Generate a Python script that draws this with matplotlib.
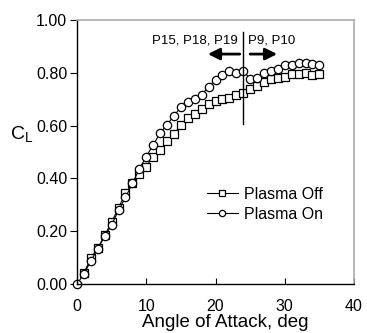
import matplotlib
matplotlib.use("Agg")
import matplotlib.pyplot as plt

plt.rcParams["font.family"] = ["Liberation Sans", "DejaVu Sans"]
plt.rcParams["mathtext.fontset"] = "custom"
plt.rcParams["mathtext.rm"] = "Liberation Sans"
plt.rcParams["mathtext.it"] = "Liberation Sans"

# ---------------------------------------------------------------------------
# Data
# ---------------------------------------------------------------------------
alpha_off = list(range(1, 36))
cl_off = [0.042, 0.098, 0.136, 0.184, 0.235, 0.288, 0.344, 0.382, 0.416, 0.445,
          0.483, 0.506, 0.540, 0.567, 0.603, 0.627, 0.644, 0.662, 0.682, 0.695,
          0.700, 0.706, 0.716, 0.725, 0.740, 0.750, 0.767, 0.777, 0.782, 0.786,
          0.796, 0.796, 0.800, 0.792, 0.796]

alpha_on = list(range(0, 36))
cl_on = [0.000, 0.038, 0.088, 0.134, 0.180, 0.224, 0.279, 0.328, 0.381, 0.435,
         0.483, 0.527, 0.571, 0.604, 0.637, 0.670, 0.691, 0.700, 0.716, 0.748,
         0.773, 0.792, 0.805, 0.801, 0.808, 0.776, 0.779, 0.798, 0.807, 0.815,
         0.830, 0.830, 0.836, 0.836, 0.832, 0.830]

split_alpha = 24
split_range = (0.607, 0.956)
left_label = "P15, P18, P19"
right_label = "P9, P10"

x_ticks = [0, 10, 20, 30, 40]
y_ticks = [0.0, 0.2, 0.4, 0.6, 0.8, 1.0]

# ---------------------------------------------------------------------------
# Plot
# ---------------------------------------------------------------------------
fig = plt.figure(figsize=(3.67, 3.33), dpi=100)
ax = fig.add_axes([0.2098, 0.1471, 0.7548, 0.7928])

ax.plot(alpha_off, cl_off, color="black", linewidth=0.8, marker="s",
        markersize=6, markerfacecolor="white", markeredgecolor="black",
        markeredgewidth=0.9, label="Plasma Off")
ax.plot(alpha_on, cl_on, color="black", linewidth=0.8, marker="o",
        markersize=6, markerfacecolor="white", markeredgecolor="black",
        markeredgewidth=0.9, label="Plasma On", clip_on=False)

ax.plot([split_alpha, split_alpha], split_range, color="black", linewidth=1.0)
ax.text(23.2, 0.924, left_label, ha="right", va="center", fontsize=9.5)
ax.text(24.7, 0.924, right_label, ha="left", va="center", fontsize=9.5)
arrow = dict(arrowstyle="-|>,head_length=0.7,head_width=0.35", color="black",
             linewidth=2, shrinkA=0, shrinkB=0)
ax.annotate("", xy=(18.9, 0.871), xytext=(23.5, 0.871), arrowprops=arrow)
ax.annotate("", xy=(28.9, 0.871), xytext=(25.0, 0.871), arrowprops=arrow)

ax.set_xlim(0, 40)
ax.set_ylim(0, 1.0)
ax.set_xticks(x_ticks)
ax.set_yticks(y_ticks)
ax.set_yticklabels([f"{v:.2f}" for v in y_ticks])
ax.tick_params(axis="x", direction="in", length=4, pad=11, labelsize=11.5)
ax.tick_params(axis="y", direction="out", length=5, pad=2, labelsize=11.5)

for side in ("top", "right"):
    ax.spines[side].set_color("#aaaaaa")
    ax.spines[side].set_linewidth(1.2)
for side in ("left", "bottom"):
    ax.spines[side].set_linewidth(1.0)

ax.set_xlabel("Angle of Attack, deg", fontsize=13.5)
ax.xaxis.set_label_coords(0.534, -0.115)
ax.set_ylabel(r"C$_{\rm L}$", fontsize=14, rotation=0)
ax.yaxis.set_label_coords(-0.2, 0.53)

ax.legend(loc="upper left", bbox_to_anchor=(0.47, 0.368), frameon=False,
          fontsize=11.5, handlelength=1.9, handletextpad=0.4, labelspacing=0.3,
          borderpad=0, borderaxespad=0, markerscale=0.75)

fig.savefig("out.png", dpi=100)
